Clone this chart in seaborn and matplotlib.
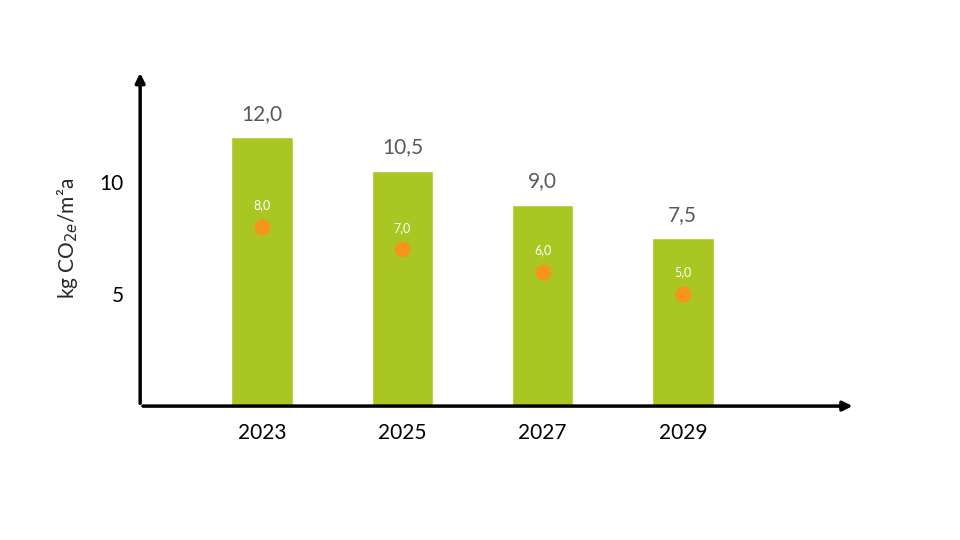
import matplotlib
matplotlib.use("Agg")
import matplotlib.pyplot as plt
import seaborn as sns
import pandas as pd

years = ["2023", "2025", "2027", "2029"]
bar_values = [12.0, 10.5, 9.0, 7.5]
dot_values = [8.0, 7.0, 6.0, 5.0]

BAR_COLOR = "#A9C623"
DOT_COLOR = "#F7941D"

sns.set_style("white")
plt.rcParams["font.family"] = ["Lato", "DejaVu Sans"]

df = pd.DataFrame({"year": years, "value": bar_values})

fig = plt.figure(figsize=(9.6, 5.4), dpi=100)
ax = fig.add_axes([0.146, 0.248, 0.745, 0.622])

sns.barplot(data=df, x="year", y="value", order=years, color=BAR_COLOR,
            width=0.44, saturation=1, ax=ax)
ax.scatter(range(len(years)), dot_values, s=110, color=DOT_COLOR, zorder=3)

for i, (b, d) in enumerate(zip(bar_values, dot_values)):
    ax.text(i, b + 0.6, f"{b:.1f}".replace(".", ","), ha="center", va="bottom",
            fontsize=15, color="#595959")
    ax.text(i, d + 0.7, f"{d:.1f}".replace(".", ","), ha="center", va="bottom",
            fontsize=9, color="white")

ax.set_xlim(-0.87, 4.23)
ax.set_ylim(0, 15)
ax.set_yticks([5, 10])
ax.tick_params(axis="both", length=0, labelsize=15, colors="black")
ax.tick_params(axis="x", pad=12)
ax.tick_params(axis="y", pad=12)
ax.set_xlabel("")
ax.set_ylabel("kg CO$_{2e}$/m²a", fontsize=15, labelpad=14)
for s in ax.spines.values():
    s.set_visible(False)

arrow = dict(arrowstyle="-|>", color="black", lw=2.5, mutation_scale=14)
ax.annotate("", xy=(1.0, 0), xytext=(0, 0), xycoords="axes fraction", arrowprops=arrow)
ax.annotate("", xy=(0, 1.0), xytext=(0, 0), xycoords="axes fraction", arrowprops=arrow)

fig.savefig("out.png", dpi=100)
